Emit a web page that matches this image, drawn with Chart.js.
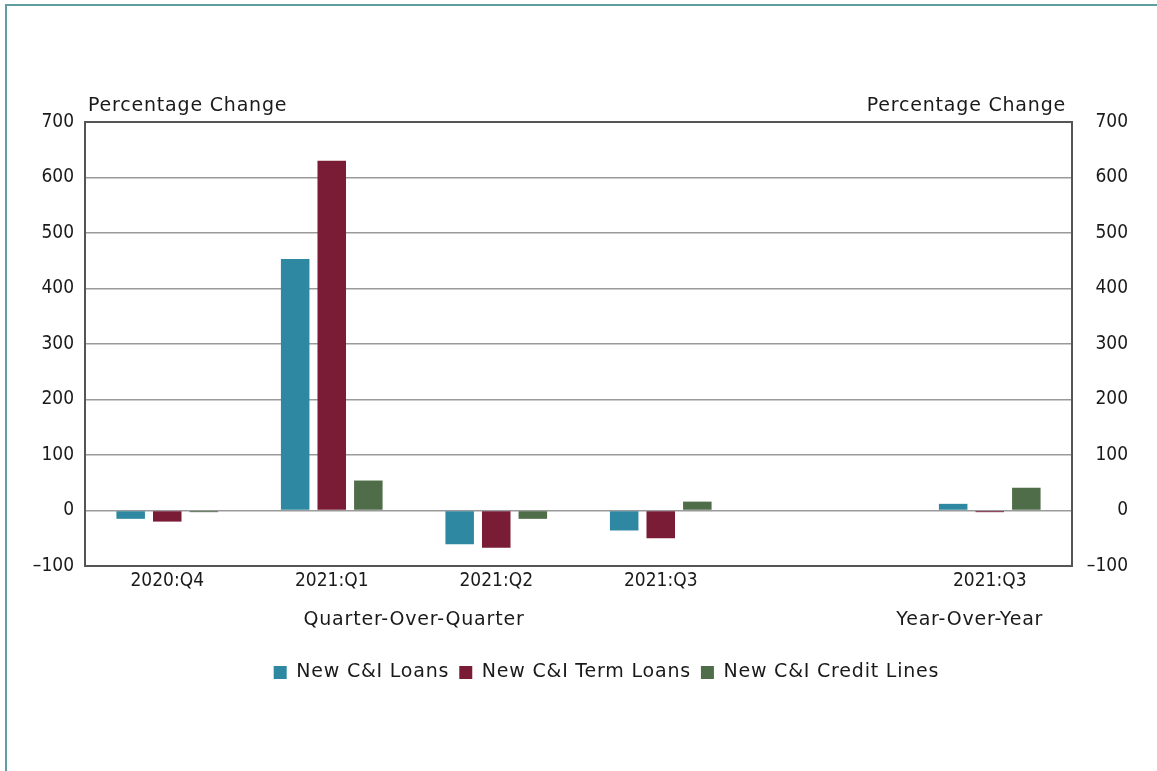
<!DOCTYPE html>
<html>
<head>
<meta charset="utf-8">
<script src="https://cdn.jsdelivr.net/npm/chart.js@4"></script>
<style>
    html, body { margin: 0; padding: 0; background: #fff; }
    #wrap { position: relative; width: 1157px; height: 771px; }
    #frame {
        position: absolute; left: 5px; top: 4px; right: 0; bottom: 0;
        border-top: 2px solid #5f9fa1; border-left: 2px solid #5f9fa1;
        pointer-events: none;
    }
</style>
</head>
<body>
<div id="wrap">
    <canvas id="chart" width="1157" height="771"></canvas>
    <div id="frame"></div>
</div>
<script>
    const categories = ['2020:Q4', '2021:Q1', '2021:Q2', '2021:Q3', '', '2021:Q3'];
    const newLoans = [-15, 453, -61, -36, null, 12];
    const newTermLoans = [-20, 630, -67, -50, null, -3];
    const newCreditLines = [-3, 54, -15, 16, null, 41];
    const yTicks = [-100, 0, 100, 200, 300, 400, 500, 600, 700];
    const axisTitle = 'Percentage Change';
    const groupLabels = [
        { text: 'Quarter-Over-Quarter', from: 0, to: 3 },
        { text: 'Year-Over-Year', from: 5, to: 5 }
    ];

    const tickFont = '"DejaVu Sans Condensed", "DejaVu Sans", sans-serif';
    const labelFont = '"DejaVu Sans", sans-serif';
    const textColor = '#1a1a1a';
    const labelSpacing = '0.8px';

    function tickLabel(v) {
        return v < 0 ? '\u2013' + Math.abs(v) : String(v);
    }

    // legend text is drawn a bit spaced out, tick labels are not
    const spacing = {
        id: 'spacing',
        beforeUpdate(chart) { chart.ctx.letterSpacing = labelSpacing; },
        afterLayout(chart) {
            chart.ctx.letterSpacing = '0px';
            // centre the legend under the plot and its right-hand labels
            const lg = chart.legend;
            const w = lg.right - lg.left;
            const mid = (chart.chartArea.left + chart.scales.y2.right) / 2;
            lg.left = mid - w / 2;
            lg.right = mid + w / 2;
        },
        beforeDraw(chart) { chart.ctx.letterSpacing = labelSpacing; },
        afterDatasetsDraw(chart) { chart.ctx.letterSpacing = '0px'; }
    };

    // frame round the plot, axis titles above it, group labels under the x ticks
    const extras = {
        id: 'extras',
        afterDraw(chart) {
            const ctx = chart.ctx;
            const a = chart.chartArea;
            ctx.save();
            ctx.strokeStyle = '#555';
            ctx.lineWidth = 2;
            ctx.strokeRect(a.left, a.top, a.right - a.left, a.bottom - a.top);

            ctx.fillStyle = textColor;
            ctx.font = '19px ' + labelFont;
            ctx.letterSpacing = labelSpacing;
            ctx.textBaseline = 'alphabetic';
            ctx.textAlign = 'left';
            ctx.fillText(axisTitle, a.left + 3, a.top - 11);
            ctx.textAlign = 'right';
            ctx.fillText(axisTitle, a.right - 6, a.top - 11);

            const x = chart.scales.x;
            ctx.textBaseline = 'middle';
            ctx.textAlign = 'center';
            groupLabels.forEach(function (g) {
                let cx = (x.getPixelForValue(g.from) + x.getPixelForValue(g.to)) / 2;
                if (g.from === g.to) cx -= 20;
                ctx.fillText(g.text, cx, a.bottom + 54);
            });
            ctx.restore();
        }
    };

    const ctx = document.getElementById('chart').getContext('2d');
    const chart = new Chart(ctx, {
        type: 'bar',
        data: {
            labels: categories,
            datasets: [
                { label: 'New C&I Loans', data: newLoans, backgroundColor: '#2f88a2' },
                { label: 'New C&I Term Loans', data: newTermLoans, backgroundColor: '#7a1c36' },
                { label: 'New C&I Credit Lines', data: newCreditLines, backgroundColor: '#4f6d48' }
            ]
        },
        options: {
            responsive: false,
            animation: false,
            categoryPercentage: 0.667,
            barPercentage: 0.78,
            layout: { padding: { left: 0, right: 29, top: 122, bottom: 79 } },
            plugins: {
                legend: {
                    position: 'bottom',
                    labels: {
                        boxWidth: 13,
                        boxHeight: 13,
                        padding: 10,
                        color: textColor,
                        font: { family: labelFont, size: 19 }
                    }
                },
                tooltip: { enabled: false }
            },
            scales: {
                x: {
                    grid: { display: false, drawTicks: false },
                    border: { display: false },
                    ticks: {
                        z: 1,
                        color: textColor,
                        padding: 4,
                        font: { family: tickFont, size: 19 },
                        maxRotation: 0,
                        autoSkip: false
                    },
                    afterFit(scale) { scale.height = 87; }
                },
                y: {
                    position: 'left',
                    min: -100,
                    max: 700,
                    afterBuildTicks(scale) { scale.ticks = yTicks.map(v => ({ value: v })); },
                    grid: { color: '#9a9a9a', lineWidth: 1.5, drawTicks: false },
                    border: { display: false },
                    ticks: {
                        z: 1,
                        color: textColor,
                        padding: 11,
                        font: { family: tickFont, size: 19 },
                        callback: tickLabel
                    },
                    afterFit(scale) { scale.width = 85; }
                },
                y2: {
                    position: 'right',
                    min: -100,
                    max: 700,
                    afterBuildTicks(scale) { scale.ticks = yTicks.map(v => ({ value: v })); },
                    grid: { display: false, drawTicks: false },
                    border: { display: false },
                    ticks: {
                        z: 1,
                        color: textColor,
                        padding: 14,
                        crossAlign: 'far',
                        font: { family: tickFont, size: 19 },
                        callback: tickLabel
                    },
                    afterFit(scale) { scale.width = 56; }
                }
            }
        },
        plugins: [spacing, extras]
    });
</script>
</body>
</html>
